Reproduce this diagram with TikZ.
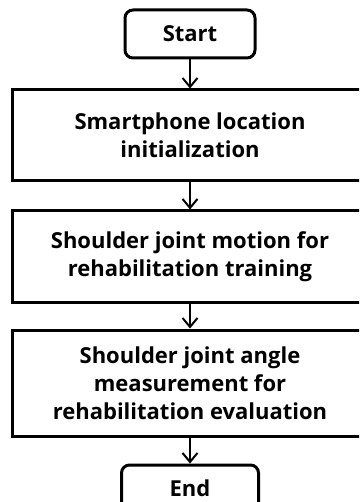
\documentclass[tikz,border=0pt]{standalone}
\usepackage{fontspec}
\setmainfont{Open Sans}
\usepackage{tikz}
\usetikzlibrary{positioning,arrows.meta}
\tikzset{
    termbox/.style={rectangle, rounded corners=8pt, draw=black, line width=3pt, fill=white, minimum width=130pt, minimum height=48pt, font=\bfseries\fontsize{22}{28}\selectfont},
    procbox/.style={rectangle, draw=black, line width=3pt, fill=white, minimum width=356pt, minimum height=91pt, align=center, font=\bfseries\fontsize{22}{28}\selectfont},
    flowline/.style={draw=black, line width=2pt, -{Straight Barb[length=9pt, width=15pt, line width=2pt]}}
}
\begin{document}
\begin{tikzpicture}[x=1pt, y=1pt, node distance=27pt]

        % --- KHUNG ---
        \clip (0,0) rectangle (359,-502);

        % --- CAC KHOI ---
        \node[termbox] (start) at (190,-34) {Start};
        \node[procbox, below=29pt of start] (locinit) {Smartphone location\\initialization};
        \node[procbox, below=27pt of locinit] (motion) {Shoulder joint motion for\\rehabilitation training};
        \node[procbox, minimum height=106pt, below=25pt of motion] (angle) {Shoulder joint angle\\measurement for\\rehabilitation evaluation};
        \node[termbox, minimum width=137pt, minimum height=47pt, below=26pt of angle] (end) {End};

        % --- MUI TEN ---
        \draw[flowline] (start) -- (locinit);
        \draw[flowline] (locinit) -- (motion);
        \draw[flowline] (motion) -- (angle);
        \draw[flowline] (angle) -- (end);

    \end{tikzpicture}
\end{document}
